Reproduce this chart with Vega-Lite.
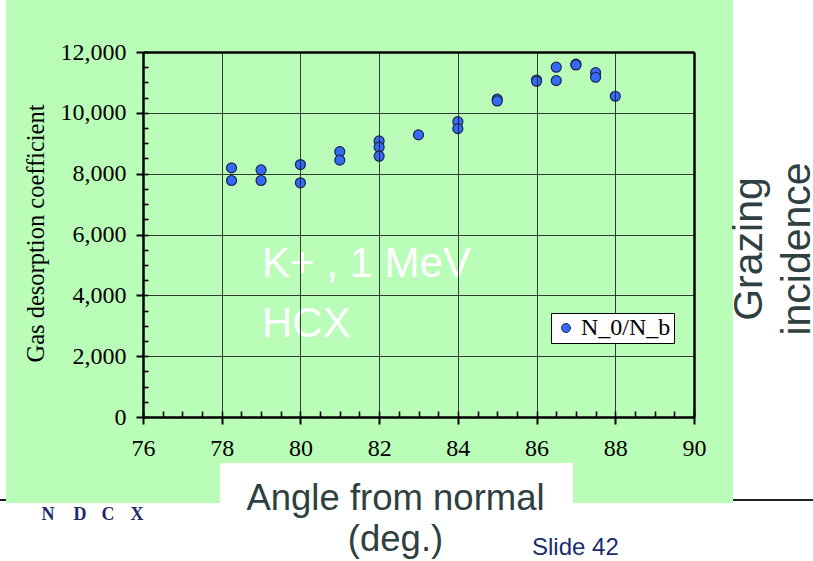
{
  "$schema": "https://vega.github.io/schema/vega-lite/v6.json",
  "width": 551,
  "height": 365,
  "padding": {"left": 143, "top": 52, "right": 119, "bottom": 144},
  "autosize": {"type": "none"},
  "config": {"background": "white", "view": {"stroke": null}},
  "data": {"values": [
    {"angle": 78.25, "coef": 8190, "series": "N_0/N_b"},
    {"angle": 78.25, "coef": 7775, "series": "N_0/N_b"},
    {"angle": 79, "coef": 8125, "series": "N_0/N_b"},
    {"angle": 79, "coef": 7775, "series": "N_0/N_b"},
    {"angle": 80, "coef": 8300, "series": "N_0/N_b"},
    {"angle": 80, "coef": 7700, "series": "N_0/N_b"},
    {"angle": 81, "coef": 8725, "series": "N_0/N_b"},
    {"angle": 81, "coef": 8445, "series": "N_0/N_b"},
    {"angle": 82, "coef": 9075, "series": "N_0/N_b"},
    {"angle": 82, "coef": 8870, "series": "N_0/N_b"},
    {"angle": 82, "coef": 8575, "series": "N_0/N_b"},
    {"angle": 83, "coef": 9275, "series": "N_0/N_b"},
    {"angle": 84, "coef": 9710, "series": "N_0/N_b"},
    {"angle": 84, "coef": 9480, "series": "N_0/N_b"},
    {"angle": 85, "coef": 10450, "series": "N_0/N_b"},
    {"angle": 85, "coef": 10390, "series": "N_0/N_b"},
    {"angle": 86, "coef": 11080, "series": "N_0/N_b"},
    {"angle": 86, "coef": 11040, "series": "N_0/N_b"},
    {"angle": 86.5, "coef": 11500, "series": "N_0/N_b"},
    {"angle": 86.5, "coef": 11060, "series": "N_0/N_b"},
    {"angle": 87, "coef": 11600, "series": "N_0/N_b"},
    {"angle": 87, "coef": 11575, "series": "N_0/N_b"},
    {"angle": 87.5, "coef": 11320, "series": "N_0/N_b"},
    {"angle": 87.5, "coef": 11170, "series": "N_0/N_b"},
    {"angle": 88, "coef": 10545, "series": "N_0/N_b"}
  ]},
  "resolve": {"axis": {"x": "independent", "y": "independent"}},
  "layer": [
    {
      "data": {"values": [{}]},
      "mark": {"type": "rule", "stroke": "#222222", "strokeWidth": 2},
      "encoding": {
        "x": {"datum": 72.367, "type": "quantitative", "scale": {"domain": [76, 90], "nice": false, "zero": false}, "axis": null},
        "x2": {"datum": 93.024},
        "y": {"datum": -2730, "type": "quantitative", "scale": {"domain": [0, 12000], "nice": false, "zero": false}, "axis": null}
      }
    },
    {
      "data": {"values": [{}]},
      "mark": {"type": "rect", "fill": "#b9fdb9"},
      "encoding": {
        "x": {"datum": 72.519, "type": "quantitative", "scale": {"domain": [76, 90], "nice": false, "zero": false}, "axis": null},
        "x2": {"datum": 90.991},
        "y": {"datum": 13709, "type": "quantitative", "scale": {"domain": [0, 12000], "nice": false, "zero": false}, "axis": null},
        "y2": {"datum": -2827}
      }
    },
    {
      "data": {"values": [{}]},
      "mark": {"type": "rect", "fill": "white"},
      "encoding": {
        "x": {"datum": 77.956, "type": "quantitative", "scale": {"domain": [76, 90], "nice": false, "zero": false}, "axis": null},
        "x2": {"datum": 86.926},
        "y": {"datum": -1512, "type": "quantitative", "scale": {"domain": [0, 12000], "nice": false, "zero": false}, "axis": null},
        "y2": {"datum": -2827}
      }
    },
    {
      "mark": {"type": "circle", "size": 100, "opacity": 1, "stroke": "#1c2452", "strokeWidth": 1.2},
      "encoding": {
        "x": {"field": "angle", "type": "quantitative",
          "scale": {"domain": [76, 90], "nice": false, "zero": false},
          "axis": {"orient": "bottom", "zindex": 1, "values": [76, 78, 80, 82, 84, 86, 88, 90], "format": "d",
            "grid": true, "gridColor": "#1a1a1a", "gridWidth": 1, "gridOpacity": 0.85,
            "domainColor": "black", "domainWidth": 2.5,
            "tickColor": "black", "tickWidth": 2, "tickSize": 7,
            "labelFont": "Liberation Serif", "labelFontSize": 24, "labelColor": "black", "labelPadding": 12,
            "labelFlush": false, "labelOverlap": false,
            "title": ["Angle from normal", "(deg.)"],
            "titleFont": "Liberation Sans", "titleFontSize": 36.5, "titleFontWeight": "normal", "titleColor": "#2f4040",
            "titleX": 252, "titleY": 92, "titleAlign": "center", "titleBaseline": "alphabetic", "titleLineHeight": 41}},
        "y": {"field": "coef", "type": "quantitative",
          "scale": {"domain": [0, 12000], "nice": false, "zero": false},
          "axis": {"orient": "left", "zindex": 1, "values": [0, 2000, 4000, 6000, 8000, 10000, 12000], "format": ",d",
            "grid": true, "gridColor": "#1a1a1a", "gridWidth": 1, "gridOpacity": 0.85,
            "domainColor": "black", "domainWidth": 2.5,
            "tickColor": "black", "tickWidth": 2, "tickSize": 7,
            "labelFont": "Liberation Serif", "labelFontSize": 24, "labelColor": "black", "labelPadding": 10,
            "labelFlush": false, "labelOverlap": false,
            "title": "Gas desorption coefficient",
            "titleFont": "Liberation Serif", "titleFontSize": 24.5, "titleFontWeight": "normal", "titleColor": "black",
            "titleAngle": 270, "titleX": -100, "titleY": 181, "titleAlign": "center", "titleBaseline": "alphabetic"}},
        "color": {"field": "series", "type": "nominal",
          "scale": {"range": ["#356af7"]},
          "legend": {"orient": "none", "legendX": 408, "legendY": 261, "title": null, "zindex": 2,
            "fillColor": "white", "strokeColor": "black", "padding": 3,
            "labelFont": "Liberation Serif", "labelFontSize": 24, "labelColor": "black", "labelOffset": 3,
            "symbolType": "circle", "symbolSize": 80, "symbolStrokeColor": "#1c2452", "symbolStrokeWidth": 1, "symbolOffset": 0}}
      }
    },
    {
      "mark": {"type": "circle", "opacity": 0},
      "encoding": {
        "x": {"field": "angle", "type": "quantitative",
          "scale": {"domain": [76, 90], "nice": false, "zero": false},
          "axis": {"orient": "bottom", "zindex": 1, "values": [76, 76.5, 77, 77.5, 78, 78.5, 79, 79.5, 80, 80.5, 81, 81.5, 82, 82.5, 83, 83.5, 84, 84.5, 85, 85.5, 86, 86.5, 87, 87.5, 88, 88.5, 89, 89.5, 90],
            "grid": false, "domain": false, "labels": false, "title": null,
            "tickColor": "black", "tickWidth": 1.6, "tickSize": -6}},
        "y": {"field": "coef", "type": "quantitative",
          "scale": {"domain": [0, 12000], "nice": false, "zero": false},
          "axis": {"orient": "left", "zindex": 1, "values": [0, 500, 1000, 1500, 2000, 2500, 3000, 3500, 4000, 4500, 5000, 5500, 6000, 6500, 7000, 7500, 8000, 8500, 9000, 9500, 10000, 10500, 11000, 11500, 12000],
            "grid": false, "domain": false, "labels": false, "title": null,
            "tickColor": "black", "tickWidth": 1.6, "tickSize": -5}}
      }
    },
    {
      "mark": {"type": "circle", "opacity": 0},
      "encoding": {
        "x": {"field": "angle", "type": "quantitative",
          "scale": {"domain": [76, 90], "nice": false, "zero": false},
          "axis": {"orient": "top", "zindex": 1, "grid": false, "domain": true, "domainColor": "black", "domainWidth": 2.5, "ticks": false, "labels": false, "title": null}},
        "y": {"field": "coef", "type": "quantitative",
          "scale": {"domain": [0, 12000], "nice": false, "zero": false},
          "axis": {"orient": "right", "zindex": 1, "grid": false, "domain": true, "domainColor": "black", "domainWidth": 2.5, "ticks": false, "labels": false, "title": null}}
      }
    },
    {
      "data": {"values": [{}]},
      "mark": {"type": "text", "text": ["K+ , 1 MeV", "HCX"], "font": "Liberation Sans", "fontSize": 42, "color": "white", "align": "left", "baseline": "alphabetic", "lineHeight": 60},
      "encoding": {
        "x": {"datum": 79.024, "type": "quantitative", "scale": {"domain": [76, 90], "nice": false, "zero": false}, "axis": null},
        "y": {"datum": 4603, "type": "quantitative", "scale": {"domain": [0, 12000], "nice": false, "zero": false}, "axis": null}
      }
    },
    {
      "data": {"values": [{}]},
      "mark": {"type": "text", "text": ["Grazing", "incidence"], "font": "Liberation Sans", "fontSize": 41, "color": "#2f4040", "align": "center", "baseline": "alphabetic", "angle": 270, "lineHeight": 48},
      "encoding": {
        "x": {"datum": 91.72, "type": "quantitative", "scale": {"domain": [76, 90], "nice": false, "zero": false}, "axis": null},
        "y": {"datum": 5523, "type": "quantitative", "scale": {"domain": [0, 12000], "nice": false, "zero": false}, "axis": null}
      }
    },
    {
      "data": {"values": [{}]},
      "mark": {"type": "text", "text": "Slide 42", "font": "Liberation Sans", "fontSize": 24, "color": "#1a2d6e", "align": "left", "baseline": "alphabetic"},
      "encoding": {
        "x": {"datum": 85.884, "type": "quantitative", "scale": {"domain": [76, 90], "nice": false, "zero": false}, "axis": null},
        "y": {"datum": -4537, "type": "quantitative", "scale": {"domain": [0, 12000], "nice": false, "zero": false}, "axis": null}
      }
    },
    {
      "data": {"values": [{}]},
      "mark": {"type": "text", "text": "N", "font": "Liberation Serif", "fontWeight": "bold", "fontSize": 18, "color": "#1f2a6b", "align": "center", "baseline": "middle"},
      "encoding": {
        "x": {"datum": 73.586, "type": "quantitative", "scale": {"domain": [76, 90], "nice": false, "zero": false}, "axis": null},
        "y": {"datum": -3222, "type": "quantitative", "scale": {"domain": [0, 12000], "nice": false, "zero": false}, "axis": null}
      }
    },
    {
      "data": {"values": [{}]},
      "mark": {"type": "text", "text": "D", "font": "Liberation Serif", "fontWeight": "bold", "fontSize": 18, "color": "#1f2a6b", "align": "center", "baseline": "middle"},
      "encoding": {
        "x": {"datum": 74.399, "type": "quantitative", "scale": {"domain": [76, 90], "nice": false, "zero": false}, "axis": null},
        "y": {"datum": -3222, "type": "quantitative", "scale": {"domain": [0, 12000], "nice": false, "zero": false}, "axis": null}
      }
    },
    {
      "data": {"values": [{}]},
      "mark": {"type": "text", "text": "C", "font": "Liberation Serif", "fontWeight": "bold", "fontSize": 18, "color": "#1f2a6b", "align": "center", "baseline": "middle"},
      "encoding": {
        "x": {"datum": 75.111, "type": "quantitative", "scale": {"domain": [76, 90], "nice": false, "zero": false}, "axis": null},
        "y": {"datum": -3222, "type": "quantitative", "scale": {"domain": [0, 12000], "nice": false, "zero": false}, "axis": null}
      }
    },
    {
      "data": {"values": [{}]},
      "mark": {"type": "text", "text": "X", "font": "Liberation Serif", "fontWeight": "bold", "fontSize": 18, "color": "#1f2a6b", "align": "center", "baseline": "middle"},
      "encoding": {
        "x": {"datum": 75.848, "type": "quantitative", "scale": {"domain": [76, 90], "nice": false, "zero": false}, "axis": null},
        "y": {"datum": -3222, "type": "quantitative", "scale": {"domain": [0, 12000], "nice": false, "zero": false}, "axis": null}
      }
    }
  ]
}
